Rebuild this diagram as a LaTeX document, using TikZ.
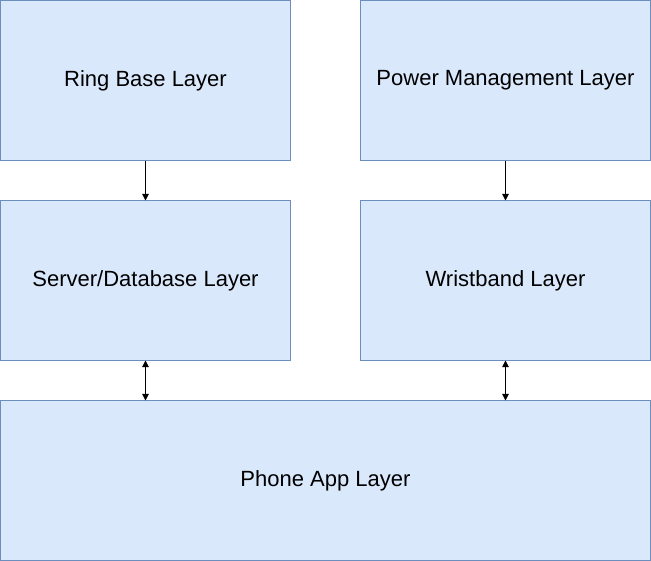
\documentclass[tikz,border=0pt]{standalone}
\usepackage{fontspec}
\setmainfont{Liberation Sans}
\usetikzlibrary{arrows.meta}
\definecolor{boxfill}{HTML}{DAE8FC}
\definecolor{boxline}{HTML}{6C8EBF}
\begin{document}
\begin{tikzpicture}[x=0.75pt,y=-0.75pt,
  layer/.style={draw=boxline,fill=boxfill,line width=0.75pt,inner sep=0pt,outer sep=0pt,
    minimum width=217.5pt,minimum height=120pt,font=\fontsize{16.5}{20}\selectfont},
  widelayer/.style={layer,minimum width=487.5pt},
  conn/.style={draw=black,line width=0.75pt,-{Triangle[length=5pt,width=5pt]}},
  conn2/.style={draw=black,line width=0.75pt,{Triangle[length=5pt,width=5pt]}-{Triangle[length=5pt,width=5pt]}}]
\useasboundingbox (0,0) rectangle (651,561);
\node[layer] (ring) at (145.5,80.5) {Ring Base Layer};
\node[layer] (power) at (505.5,80.5) {Power Management Layer};
\node[layer] (server) at (145.5,280.5) {Server/Database Layer};
\node[layer] (wrist) at (505.5,280.5) {Wristband Layer};
\node[widelayer] (phone) at (325.5,480.5) {Phone App Layer};
\draw[conn] (ring.south) -- (server.north);
\draw[conn] (power.south) -- (wrist.north);
\draw[conn2] (server.south) -- (server.south |- phone.north);
\draw[conn2] (wrist.south) -- (wrist.south |- phone.north);
\end{tikzpicture}
\end{document}
